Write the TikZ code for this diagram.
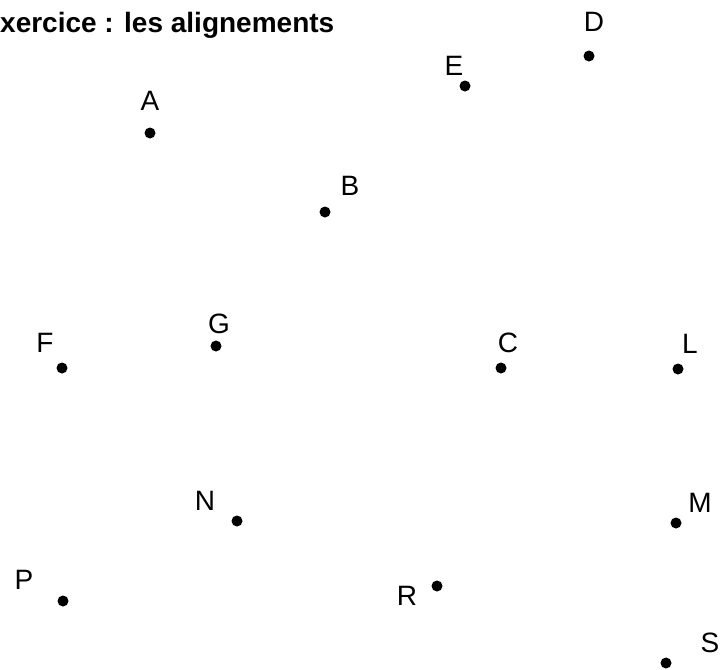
\documentclass[tikz,border=0pt]{standalone}
\usepackage{fontspec}
\setmainfont{Liberation Sans}
\newcommand\AlignPoint[4]{%
    \coordinate (#1) at (#2);
    \fill (#1) circle (5.5);
    \node[lbl] (lbl#1) at (#3) {#4};
}

\begin{document}
\begin{tikzpicture}[x=1pt,y=-1pt,
    lbl/.style={inner sep=0pt,font=\fontsize{28}{28}\selectfont}]
    \useasboundingbox (0,0) rectangle (724,670);
    \node[anchor=base west,inner sep=0pt,font=\fontsize{28}{28}\selectfont\bfseries] (title) at (0,32) {xercice : les alignements};
    \AlignPoint{A}{150,133}{150,101}{A}
    \AlignPoint{B}{325,212}{350,186}{B}
    \AlignPoint{E}{465,86}{454,66}{E}
    \AlignPoint{D}{589,56}{594,22}{D}
    \AlignPoint{F}{62,368}{45,343}{F}
    \AlignPoint{G}{216,346}{219,324}{G}
    \AlignPoint{C}{501,368}{508,343}{C}
    \AlignPoint{L}{678,369}{690,344}{L}
    \AlignPoint{N}{237,521}{205,501}{N}
    \AlignPoint{M}{676,523}{700,503}{M}
    \AlignPoint{P}{63,601}{24,580}{P}
    \AlignPoint{R}{437,586}{407,596}{R}
    \AlignPoint{S}{666,663}{710,643}{S}
\end{tikzpicture}
\end{document}
